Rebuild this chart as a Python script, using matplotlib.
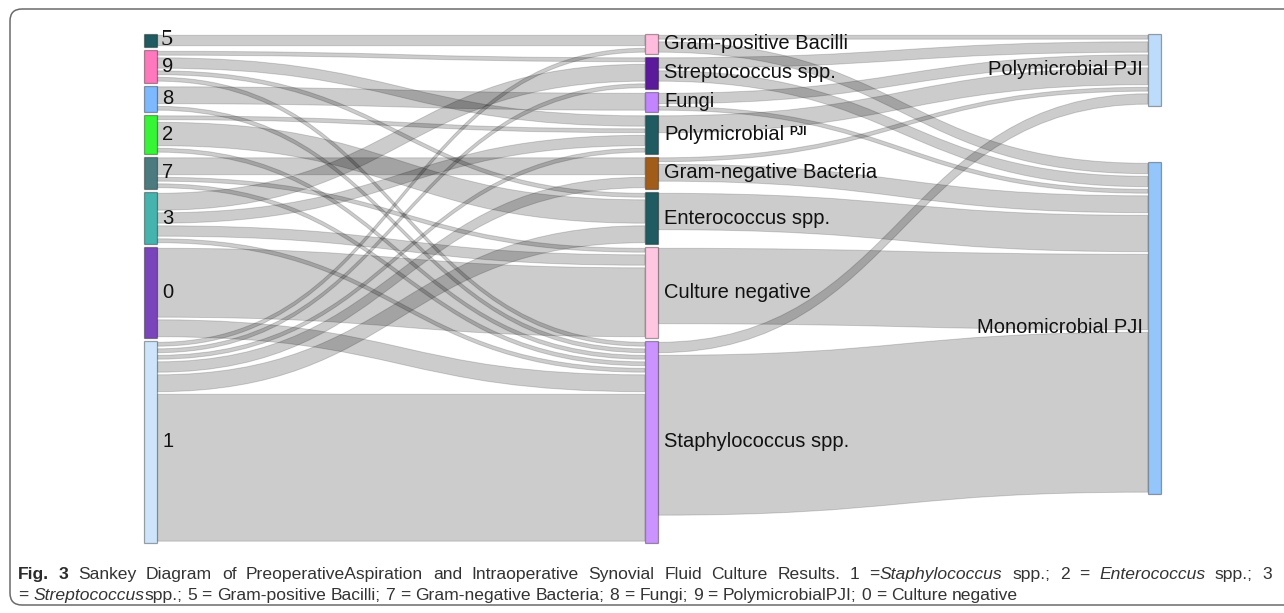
import matplotlib
matplotlib.use("Agg")
import matplotlib.pyplot as plt
from matplotlib.path import Path
from matplotlib.patches import PathPatch, Rectangle, FancyBboxPatch

W, H = 1284, 613

# columns of the sankey
left_nodes = ["5", "9", "8", "2", "7", "3", "0", "1"]
mid_nodes = ["Gram-positive Bacilli", "Streptococcus spp.", "Fungi", "Polymicrobial",
             "Gram-negative Bacteria", "Enterococcus spp.", "Culture negative",
             "Staphylococcus spp."]
right_nodes = ["Polymicrobial PJI", "Monomicrobial PJI"]

left_colors = ["#1f5b60", "#ff78bd", "#7cb9ff", "#36f536", "#4b7b7e", "#45b3ae", "#7a45bb", "#cde4fb"]
mid_colors = ["#ffbcdd", "#5b1a9c", "#c384ff", "#1f5b60", "#a25c1a", "#1f5b60", "#ffc6e2", "#ca93ff"]
right_colors = ["#bddcfb", "#94c6fb"]

# preoperative aspiration -> intraoperative culture
pre_src = ["5", "9", "9", "9", "9", "8", "8", "2", "2", "2", "7", "7", "7",
           "3", "3", "3", "3", "0", "0", "1", "1", "1", "1", "1", "1"]
pre_dst = ["Gram-positive Bacilli", "Streptococcus spp.", "Polymicrobial", "Enterococcus spp.",
           "Staphylococcus spp.", "Fungi", "Staphylococcus spp.", "Polymicrobial",
           "Enterococcus spp.", "Staphylococcus spp.", "Gram-negative Bacteria",
           "Culture negative", "Staphylococcus spp.", "Streptococcus spp.", "Polymicrobial",
           "Culture negative", "Staphylococcus spp.", "Culture negative", "Staphylococcus spp.",
           "Gram-positive Bacilli", "Streptococcus spp.", "Polymicrobial",
           "Gram-negative Bacteria", "Enterococcus spp.", "Staphylococcus spp."]
pre_val = [2, 1, 2, 1, 1, 3, 1, 1, 4, 1, 3, 1, 1, 3, 2, 2, 1, 11, 3, 1, 1, 1, 2, 3, 23]

# intraoperative culture -> PJI type
intra_src = ["Gram-positive Bacilli", "Gram-positive Bacilli", "Streptococcus spp.",
             "Streptococcus spp.", "Fungi", "Fungi", "Polymicrobial", "Gram-negative Bacteria",
             "Gram-negative Bacteria", "Enterococcus spp.", "Culture negative",
             "Staphylococcus spp.", "Staphylococcus spp."]
intra_dst = ["Polymicrobial PJI", "Monomicrobial PJI", "Polymicrobial PJI", "Monomicrobial PJI",
             "Polymicrobial PJI", "Monomicrobial PJI", "Polymicrobial PJI", "Polymicrobial PJI",
             "Monomicrobial PJI", "Monomicrobial PJI", "Monomicrobial PJI",
             "Polymicrobial PJI", "Monomicrobial PJI"]
intra_val = [1, 2, 2, 2, 2, 1, 3, 1, 3, 6, 12, 2, 25]

unit = 6.5      # px per patient
gap = 3
top = 34
node_w = 13
col_x = [144, 645, 1148]
right_tops = [34, 162]
pad = 1.3


def layout():
    cols = [left_nodes, mid_nodes, right_nodes]
    links = [(s, d, v, 0) for s, d, v in zip(pre_src, pre_dst, pre_val)]
    links += [(s, d, v, 1) for s, d, v in zip(intra_src, intra_dst, intra_val)]
    pos = {}
    for c, names in enumerate(cols):
        y = top
        for i, n in enumerate(names):
            vin = sum(v for s, d, v, k in links if d == n and k == c - 1)
            vout = sum(v for s, d, v, k in links if s == n and k == c)
            h = max(vin, vout) * unit
            if c == 2:
                y = right_tops[i]
            pos[(c, n)] = [y, h]
            y += h + gap
    return links, pos


links, pos = layout()

fig = plt.figure(figsize=(W / 100, H / 100), dpi=100)
ax = fig.add_axes([0, 0, 1, 1])
ax.set_xlim(0, W)
ax.set_ylim(H, 0)
ax.axis("off")

# slots for each link at both ends
src_off, dst_off = {}, {}
for c in range(2):
    for n in [left_nodes, mid_nodes][c]:
        own = [(i, l) for i, l in enumerate(links) if l[0] == n and l[3] == c]
        own.sort(key=lambda t: pos[(c + 1, t[1][1])][0])
        y = pos[(c, n)][0]
        for i, l in own:
            src_off[i] = y
            y += l[2] * unit
    for n in [mid_nodes, right_nodes][c]:
        own = [(i, l) for i, l in enumerate(links) if l[1] == n and l[3] == c]
        own.sort(key=lambda t: pos[(c, t[1][0])][0])
        y = pos[(c + 1, n)][0]
        for i, l in own:
            dst_off[i] = y
            y += l[2] * unit

for i, (s, d, v, c) in enumerate(links):
    x0 = col_x[c] + node_w
    x1 = col_x[c + 1]
    xm = (x0 + x1) / 2
    a0, a1 = src_off[i] + pad, src_off[i] + v * unit - pad
    b0, b1 = dst_off[i] + pad, dst_off[i] + v * unit - pad
    verts = [(x0, a0), (xm, a0), (xm, b0), (x1, b0), (x1, b1),
             (xm, b1), (xm, a1), (x0, a1), (x0, a0)]
    codes = [Path.MOVETO, Path.CURVE4, Path.CURVE4, Path.CURVE4, Path.LINETO,
             Path.CURVE4, Path.CURVE4, Path.CURVE4, Path.CLOSEPOLY]
    ax.add_patch(PathPatch(Path(verts, codes), facecolor=(0, 0, 0, 0.2),
                           edgecolor=(0, 0, 0, 0.16), lw=0.7, zorder=1))

# nodes
for c, (names, cols) in enumerate([(left_nodes, left_colors), (mid_nodes, mid_colors),
                                    (right_nodes, right_colors)]):
    for n, col in zip(names, cols):
        y, h = pos[(c, n)]
        ax.add_patch(Rectangle((col_x[c], y), node_w, h, facecolor=col,
                               edgecolor=(0, 0, 0, 0.35), lw=0.9, zorder=3))

sans = ["Liberation Sans", "DejaVu Sans"]
lab_size = 14.5
for n in left_nodes:
    y, h = pos[(0, n)]
    if n == "5":
        ax.text(col_x[0] + node_w + 4, y + h / 2 - 1, n, family=["Liberation Serif", "DejaVu Serif"],
                fontsize=17.5, va="center", ha="left", color="#111", zorder=4)
    else:
        ax.text(col_x[0] + node_w + 5, y + h / 2, n, family=sans, fontsize=lab_size,
                va="center", ha="left", color="#111", zorder=4)

fig.canvas.draw()
rend = fig.canvas.get_renderer()

for n in mid_nodes:
    y, h = pos[(1, n)]
    t = ax.text(col_x[1] + node_w + 6, y + h / 2, n, family=sans, fontsize=lab_size,
                va="center", ha="left", color="#111", zorder=4)
    if n == "Polymicrobial":
        bb = t.get_window_extent(rend)
        ax.text(bb.x1 + 5, y + h / 2 - 2, "PJI", family=sans, fontsize=8.5,
                fontweight="bold", va="center", ha="left", color="#111", zorder=4)

for n in right_nodes:
    y, h = pos[(2, n)]
    ax.text(col_x[2] - 5, y + h / 2, n, family=sans, fontsize=lab_size,
            va="center", ha="right", color="#111", zorder=4)

# frame round the figure
ax.add_patch(FancyBboxPatch((10, 9), 1300, 596, boxstyle="round,pad=0,rounding_size=12",
                            facecolor="none", edgecolor="#6b6b6b", lw=1.1, zorder=0))

# caption with mixed styles, first line justified
cap_family = ["Liberation Sans", "DejaVu Sans"]
line1 = [("Fig. 3", "bold"),
         ("  Sankey Diagram of PreoperativeAspiration and Intraoperative Synovial Fluid Culture Results. 1 =", "normal"),
         ("Staphylococcus", "italic"), (" spp.; 2 = ", "normal"), ("Enterococcus", "italic"),
         (" spp.; 3", "normal")]
line2 = [("= ", "normal"), ("Streptococcus", "italic"),
         ("spp.; 5 = Gram-positive Bacilli; 7 = Gram-negative Bacteria; 8 = Fungi; 9 = PolymicrobialPJI; 0 = Culture negative", "normal")]


def style_kw(st, size):
    kw = dict(family=cap_family, fontsize=size)
    if st == "bold":
        kw["fontweight"] = "bold"
    elif st == "italic":
        kw["fontstyle"] = "italic"
    return kw


def text_width(s, st, size):
    t1 = ax.text(0, 0, "|" + s + "|", **style_kw(st, size))
    t2 = ax.text(0, 0, "||", **style_kw(st, size))
    w = t1.get_window_extent(rend).width - t2.get_window_extent(rend).width
    t1.remove()
    t2.remove()
    return w


def to_words(runs):
    out = []
    space = False
    for s, st in runs:
        for j, p in enumerate(s.split(" ")):
            if j > 0:
                space = True
            if p:
                out.append((p, st, space and len(out) > 0))
                space = False
    return out


def line_width(words, size):
    sp = text_width(" ", "normal", size)
    return sum(text_width(w, st, size) + (sp if b else 0) for w, st, b in words)


w1, w2 = to_words(line1), to_words(line2)
base = 10
cap_size = min(base * 1000 / line_width(w2, base), base * 1254 / line_width(w1, base))


def draw_line(x, y, words, target=None):
    sp = text_width(" ", "normal", cap_size)
    if target is not None:
        nat = sum(text_width(w, st, cap_size) for w, st, b in words)
        sp = (target - nat) / sum(1 for w in words if w[2])
    for w, st, b in words:
        if b:
            x += sp
        kw = style_kw(st, cap_size)
        kw.update(color="#2b2b2b" if st == "bold" else "#333", va="baseline", ha="left")
        ax.text(x, y, w, **kw)
        x += text_width(w, st, cap_size)


draw_line(18, 579, w1, target=1272 - 18)
draw_line(18, 600, w2)

fig.savefig("out.png", dpi=100)
